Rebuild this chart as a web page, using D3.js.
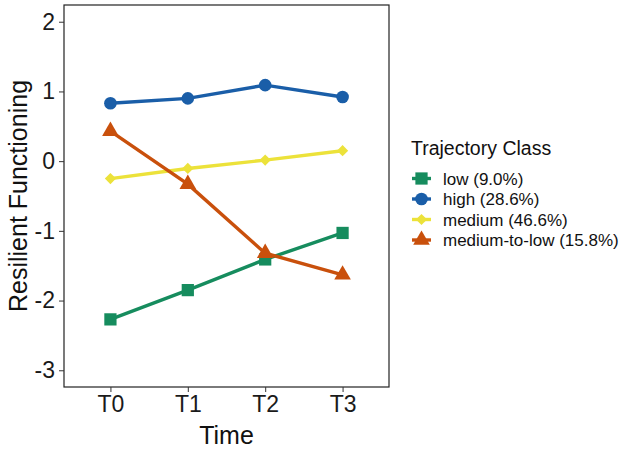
<!DOCTYPE html>
<html>
<head>
<meta charset="utf-8">
<script src="https://cdn.jsdelivr.net/npm/d3@7"></script>
<style>
  body { margin: 0; background: #fff; }
  svg { font-family: "Liberation Sans", Arial, sans-serif; }
</style>
</head>
<body>
<svg id="chart"></svg>
<script>
const times = ["T0", "T1", "T2", "T3"];
const classes = ["low (9.0%)", "high (28.6%)", "medium (46.6%)", "medium-to-low (15.8%)"];
const lowVals = [-2.27, -1.85, -1.41, -1.03];
const highVals = [0.83, 0.90, 1.09, 0.92];
const mediumVals = [-0.25, -0.105, 0.015, 0.15];
const medLowVals = [0.43, -0.33, -1.32, -1.63];
const yTicks = [-3, -2, -1, 0, 1, 2];

const colors = ["#168c5e", "#1a5ea8", "#ece23a", "#c9500c"];
const shapes = [d3.symbolSquare, d3.symbolCircle, d3.symbolDiamond2, d3.symbolTriangle];
const sizes = [150, 125, 80, 120];

const series = [lowVals, highVals, mediumVals, medLowVals];

const W = 630, H = 453;
const svg = d3.select("#chart").attr("width", W).attr("height", H);

const pLeft = 64, pRight = 389, pTop = 5, pBottom = 387;

const x = d3.scalePoint().domain(times).range([pLeft, pRight]).padding(0.6);
const y = d3.scaleLinear().domain([-3.24, 2.24]).range([pBottom, pTop]);

// panel border
svg.append("rect")
    .attr("x", pLeft).attr("y", pTop)
    .attr("width", pRight - pLeft).attr("height", pBottom - pTop)
    .attr("fill", "none").attr("stroke", "#222").attr("stroke-width", 1.2);

const yAxis = svg.append("g")
    .attr("transform", `translate(${pLeft},0)`)
    .call(d3.axisLeft(y).tickValues(yTicks).tickSize(5).tickPadding(4)
        .tickFormat(d => String(d)));
yAxis.select(".domain").remove();
yAxis.selectAll("line").attr("stroke", "#333");
yAxis.selectAll("text").attr("font-size", 23).attr("fill", "#1a1a1a").attr("font-family", null);

const xAxis = svg.append("g")
    .attr("transform", `translate(0,${pBottom})`)
    .call(d3.axisBottom(x).tickSize(5).tickPadding(4));
xAxis.select(".domain").remove();
xAxis.selectAll("line").attr("stroke", "#333");
xAxis.selectAll("text").attr("font-size", 23).attr("fill", "#1a1a1a").attr("font-family", null);

// axis titles
svg.append("text")
    .attr("x", (pLeft + pRight) / 2).attr("y", 444)
    .attr("text-anchor", "middle").attr("font-size", 25).attr("fill", "#111")
    .text("Time");

svg.append("text")
    .attr("transform", `translate(27,${(pTop + pBottom) / 2}) rotate(-90)`)
    .attr("text-anchor", "middle").attr("font-size", 25).attr("fill", "#111")
    .text("Resilient Functioning");

const line = d3.line().x((d, i) => x(times[i])).y(d => y(d));

series.forEach((vals, k) => {
    svg.append("path")
        .datum(vals)
        .attr("d", line)
        .attr("fill", "none")
        .attr("stroke", colors[k])
        .attr("stroke-width", 3.4);

    svg.append("g")
        .selectAll("path")
        .data(vals)
        .enter()
        .append("path")
        .attr("transform", (d, i) => `translate(${x(times[i])},${y(d)})`)
        .attr("d", d3.symbol().type(shapes[k]).size(sizes[k]))
        .attr("fill", colors[k]);
});

// legend
const lg = svg.append("g").attr("transform", "translate(411,0)");
lg.append("text")
    .attr("x", 0).attr("y", 155)
    .attr("font-size", 19.5).attr("fill", "#111")
    .text("Trajectory Class");

classes.forEach((c, k) => {
    const cy = 178.5 + k * 20.5;
    lg.append("line")
        .attr("x1", 1).attr("x2", 20)
        .attr("y1", cy).attr("y2", cy)
        .attr("stroke", colors[k]).attr("stroke-width", 3.4);
    lg.append("path")
        .attr("transform", `translate(10.5,${cy})`)
        .attr("d", d3.symbol().type(shapes[k]).size(sizes[k]))
        .attr("fill", colors[k]);
    lg.append("text")
        .attr("x", 32).attr("y", cy + 6)
        .attr("font-size", 17).attr("fill", "#111")
        .text(c);
});
</script>
</body>
</html>
